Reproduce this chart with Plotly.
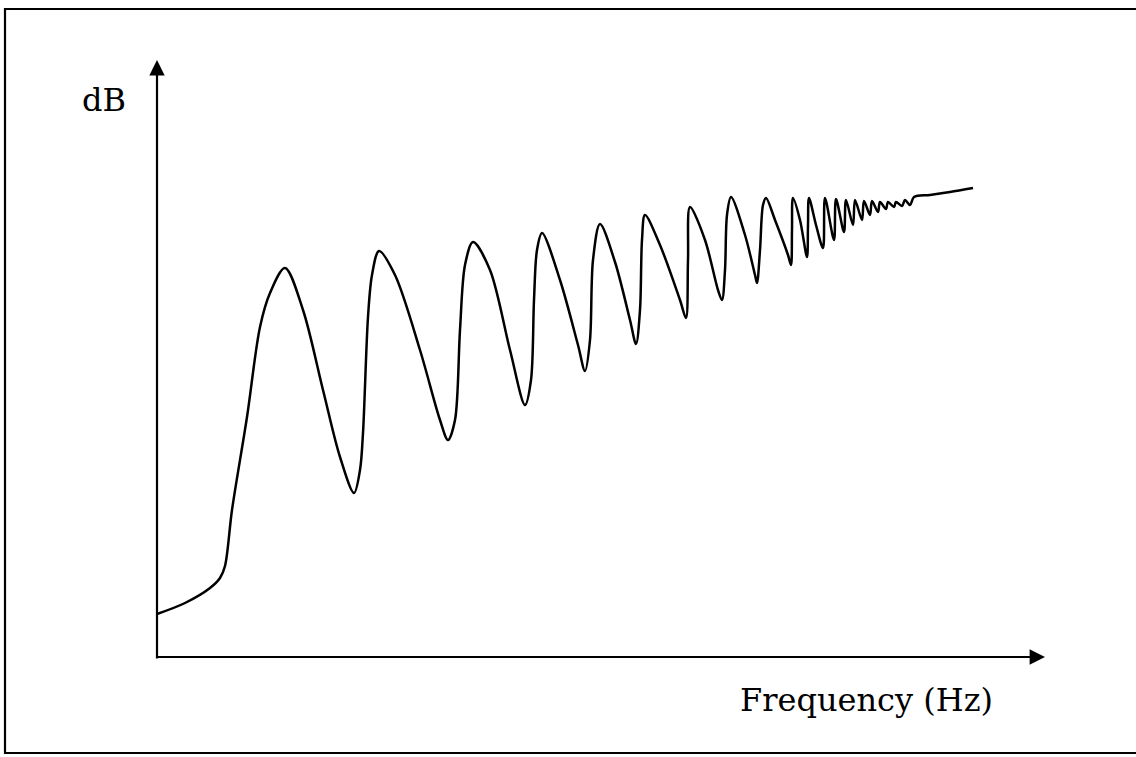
import plotly.graph_objects as go

# Frequency (arbitrary units) and level (dB, arbitrary units)
freq = [0, 28, 53, 63, 68, 75, 90, 103, 113, 128, 146, 166, 183, 197, 203, 206, 211, 215, 222,
        238, 263, 283, 291, 298, 303, 308, 316, 333, 353, 368, 374, 377, 380, 385, 403, 421, 428,
        433, 436, 443, 458, 473, 479, 483, 485, 488, 503, 523, 529, 531, 533, 548, 561, 565, 568,
        570, 574, 588, 598, 600, 603, 606, 609, 618, 631, 634, 635, 636, 643, 650, 651, 652, 659,
        666, 668, 677, 679, 687, 689, 696, 698, 705, 707, 713, 715, 721, 723, 729, 731, 737, 739,
        745, 748, 753, 757, 773, 793, 816]
level = [43, 54, 69, 79, 91, 147, 240, 330, 364, 389, 347, 267, 200, 164, 187, 224, 340, 382, 406,
         382, 307, 237, 217, 237, 327, 392, 415, 387, 307, 252, 277, 357, 407, 424, 377, 312, 286,
         317, 397, 433, 395, 337, 313, 347, 417, 442, 412, 357, 339, 397, 450, 417, 367, 357, 387,
         442, 460, 422, 382, 374, 407, 452, 459, 437, 402, 392, 427, 459, 437, 400, 432, 459, 432,
         409, 459, 417, 458, 425, 457, 432, 457, 437, 456, 442, 456, 445, 455, 448, 455, 450, 455,
         451, 457, 452, 460, 462, 465, 469]

x_label = "Frequency (Hz)"
y_label = "dB"

fig = go.Figure()
fig.add_trace(go.Scatter(x=freq, y=level, mode="lines",
                         line=dict(color="black", width=2.5, shape="spline", smoothing=0.9),
                         hoverinfo="skip", showlegend=False))

# axes with arrows
fig.add_annotation(x=0, y=597, ax=0, ay=-3, xref="x", yref="y", axref="x", ayref="y",
                   text="", showarrow=True, arrowhead=2, arrowsize=1.4, arrowwidth=2.2,
                   arrowcolor="black")
fig.add_annotation(x=888, y=0, ax=-1, ay=0, xref="x", yref="y", axref="x", ayref="y",
                   text="", showarrow=True, arrowhead=2, arrowsize=1.4, arrowwidth=2.2,
                   arrowcolor="black")

# border frame
fig.add_shape(type="rect", x0=-152, x1=1000, y0=-96, y1=648, xref="x", yref="y",
              line=dict(color="black", width=2.2), fillcolor="rgba(0,0,0,0)")

fig.add_annotation(x=-53, y=557, xref="x", yref="y", text=y_label, showarrow=False,
                   font=dict(family="DejaVu Serif", size=32, color="black"))
fig.add_annotation(x=709, y=-43, xref="x", yref="y", text=x_label, showarrow=False,
                   font=dict(family="DejaVu Serif", size=32, color="black"))

fig.update_layout(width=1136, height=757, margin=dict(l=0, r=0, t=0, b=0),
                  paper_bgcolor="white", plot_bgcolor="white",
                  xaxis=dict(range=[-157, 979], visible=False, fixedrange=True),
                  yaxis=dict(range=[-100, 657], visible=False, fixedrange=True))

fig.write_html("out.html", config={"displayModeBar": False},
               post_script="document.body.style.margin='0px';")
